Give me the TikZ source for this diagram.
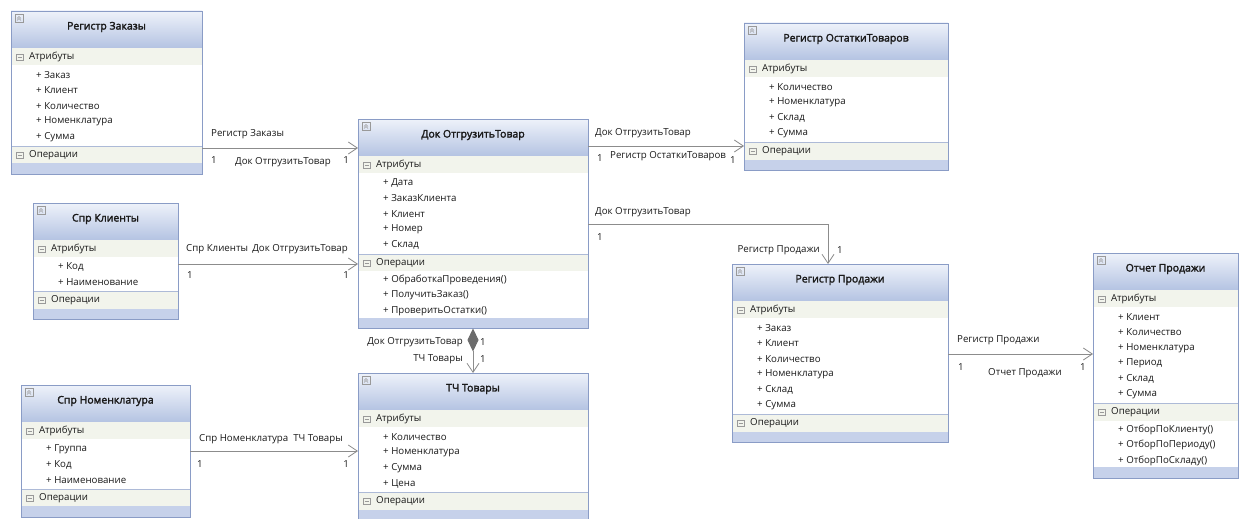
\documentclass[tikz,border=0pt]{standalone}
\usepackage{fontspec}
\setmainfont{Open Sans}[AutoFakeBold=2.2]
\usepackage{xcolor}
\usepackage{tikz}
\usetikzlibrary{arrows.meta}
\tikzset{>={Straight Barb[length=9pt,width=12pt]}}

\definecolor{boxline}{HTML}{8A9CC6}
\definecolor{titletop}{HTML}{EEF2FA}
\definecolor{titlebot}{HTML}{B4C3E2}
\definecolor{hdrfill}{HTML}{F2F4EC}
\definecolor{bandfill}{HTML}{C6D1EA}
\definecolor{linegray}{HTML}{8C8C8C}
\definecolor{txtcol}{HTML}{1A1A1A}

% name, left, top, width, title, #attributes, attributes, #operations, operations
\newcommand{\umlclass}[9]{%
  \pgfmathsetmacro{\clsSep}{#3+64+15.5*(#6-1)+9}%
  \pgfmathsetmacro{\clsBand}{\clsSep+17+15.5*#8}%
  \pgfmathsetmacro{\clsEnd}{\clsBand+11}%
  \pgfmathsetmacro{\clsHt}{\clsEnd-#3}%
  \shade[top color=titletop, bottom color=titlebot] (#2,#3) rectangle ++(#4,37);
  \fill[hdrfill] (#2,#3+37) rectangle ++(#4,17);
  \fill[hdrfill] (#2,\clsSep) rectangle ++(#4,17);
  \fill[bandfill] (#2,\clsBand) rectangle (#2+#4,\clsEnd);
  \draw[sepline] (#2,\clsSep) -- ++(#4,0);
  \node[classbox, minimum width=#4pt, minimum height=\clsHt pt] (#1) at (#2,#3) {};
  \draw[icon] (#2+4,#3+3) rectangle ++(8,8);
  \draw[icon] (#2+6,#3+7.5) -- ++(2,-2) -- ++(2,2) (#2+6,#3+9.5) -- ++(2,-2) -- ++(2,2);
  \draw[icon] (#2+5,#3+43) rectangle ++(7,6) (#2+6.5,#3+46) -- ++(4,0);
  \draw[icon] (#2+5,\clsSep+6) rectangle ++(7,6) (#2+6.5,\clsSep+9) -- ++(4,0);
  \node[titletext] (#1-t) at (#2+#4/2,#3+16) {#5};
  \node[sectext] (#1-ah) at (#2+17,#3+46) {Атрибуты};
  \foreach \a [count=\i] in {#7}
    \node[rowtext] (#1-a\i) at (#2+24,#3+48.5+15.5*\i) {+ \a};
  \node[sectext] (#1-oh) at (#2+17,\clsSep+9) {Операции};
  \ifnum#8>0\relax
    \foreach \o [count=\j] in {#9}
      \node[rowtext] (#1-o\j) at (#2+24,\clsSep+10.5+15.5*\j) {+ \o};
  \fi
}

\begin{document}
\begin{tikzpicture}[x=1pt, y=-1pt,
  every node/.style={font=\fontsize{9.7}{11}\selectfont, text=txtcol},
  classbox/.style={draw=boxline, line width=0.8pt, anchor=north west, inner sep=0pt, outer sep=0pt},
  titletext/.style={font=\fontsize{10.5}{12}\selectfont\bfseries},
  sectext/.style={anchor=west, inner sep=1pt},
  rowtext/.style={anchor=west, inner sep=1pt},
  sepline/.style={draw=boxline!70, line width=0.6pt},
  icon/.style={draw=gray!80, line width=0.4pt},
  lbl/.style={inner sep=1pt},
  assoc/.style={draw=linegray, line width=0.8pt, ->},
  comp/.style={draw=linegray, line width=0.8pt, {Diamond[length=23pt,width=11pt,fill=gray!85!black,color=gray!85!black]}->}]

    \useasboundingbox[fill=white] (0,0) rectangle (1243,519);

    %Classes
    \umlclass{zakazy}{11}{11}{191}{Регистр Заказы}{5}{Заказ, Клиент, Количество, Номенклатура, Сумма}{0}{}
    \umlclass{klienty}{33}{203}{145}{Спр Клиенты}{2}{Код, Наименование}{0}{}
    \umlclass{nomenkl}{21}{385}{169}{Спр Номенклатура}{3}{Группа, Код, Наименование}{0}{}
    \umlclass{dok}{358}{119}{230}{Док ОтгрузитьТовар}{5}{Дата, ЗаказКлиента, Клиент, Номер, Склад}{3}{ОбработкаПроведения(), ПолучитьЗаказ(), ПроверитьОстатки()}
    \umlclass{tch}{358}{373}{230}{ТЧ Товары}{4}{Количество, Номенклатура, Сумма, Цена}{0}{}
    \umlclass{ostatki}{744}{23}{204}{Регистр ОстаткиТоваров}{4}{Количество, Номенклатура, Склад, Сумма}{0}{}
    \umlclass{prodazhi}{732}{264}{216}{Регистр Продажи}{6}{Заказ, Клиент, Количество, Номенклатура, Склад, Сумма}{0}{}
    \umlclass{otchet}{1093}{253}{145}{Отчет Продажи}{6}{Клиент, Количество, Номенклатура, Период, Склад, Сумма}{3}{ОтборПоКлиенту(), ОтборПоПериоду(), ОтборПоСкладу()}

    %Levels
    \coordinate (lv1) at (0,148);
    \coordinate (lv2) at (0,264);
    \coordinate (lv3) at (0,451);
    \coordinate (lv4) at (0,146);
    \coordinate (bend) at (828,224);
    \coordinate (lv6) at (0,354);

    %Lines
    \draw[assoc] (zakazy.east |- lv1) -- (dok.west |- lv1);
    \draw[assoc] (klienty.east |- lv2) -- (dok.west |- lv2);
    \draw[assoc] (nomenkl.east |- lv3) -- (tch.west |- lv3);
    \draw[assoc] (dok.east |- lv4) -- (ostatki.west |- lv4);
    \draw[assoc] (dok.east |- bend) -| (prodazhi.north -| bend);
    \draw[assoc] (prodazhi.east |- lv6) -- (otchet.west |- lv6);
    \draw[comp] (dok.south) -- (tch.north);

    %Labels
    \node[lbl, anchor=west] (r1a) at (210,134) {Регистр Заказы};
    \node[lbl, anchor=west] (m1a) at (210,160) {1};
    \node[lbl, anchor=west] (r1b) at (234,162) {Док ОтгрузитьТовар};
    \node[lbl, anchor=east] (m1b) at (350,160) {1};
    \node[lbl, anchor=west] (r2a) at (185,249) {Спр Клиенты};
    \node[lbl, anchor=east] (r2b) at (349,249) {Док ОтгрузитьТовар};
    \node[lbl, anchor=west] (m2a) at (186,275) {1};
    \node[lbl, anchor=east] (m2b) at (350,275) {1};
    \node[lbl, anchor=west] (r3a) at (198,439) {Спр Номенклатура};
    \node[lbl, anchor=east] (r3b) at (344,439) {ТЧ Товары};
    \node[lbl, anchor=west] (m3a) at (196,464) {1};
    \node[lbl, anchor=east] (m3b) at (350,464) {1};
    \node[lbl, anchor=west] (r4a) at (594,133) {Док ОтгрузитьТовар};
    \node[lbl, anchor=west] (m4a) at (596,158) {1};
    \node[lbl, anchor=west] (r4b) at (609,156) {Регистр ОстаткиТоваров};
    \node[lbl, anchor=west] (m4b) at (729,160) {1};
    \node[lbl, anchor=west] (r5a) at (594,212) {Док ОтгрузитьТовар};
    \node[lbl, anchor=west] (m5a) at (596,237) {1};
    \node[lbl, anchor=east] (r5b) at (821,250) {Регистр Продажи};
    \node[lbl, anchor=west] (m5b) at (836,250) {1};
    \node[lbl, anchor=west] (r6a) at (956,340) {Регистр Продажи};
    \node[lbl, anchor=west] (m6a) at (957,367) {1};
    \node[lbl, anchor=west] (r6b) at (987,373) {Отчет Продажи};
    \node[lbl, anchor=west] (m6b) at (1079,367) {1};
    \node[lbl, anchor=east] (r7a) at (464,342) {Док ОтгрузитьТовар};
    \node[lbl, anchor=west] (m7a) at (479,342) {1};
    \node[lbl, anchor=east] (r7b) at (464,359) {ТЧ Товары};
    \node[lbl, anchor=west] (m7b) at (479,359) {1};

\end{tikzpicture}
\end{document}
